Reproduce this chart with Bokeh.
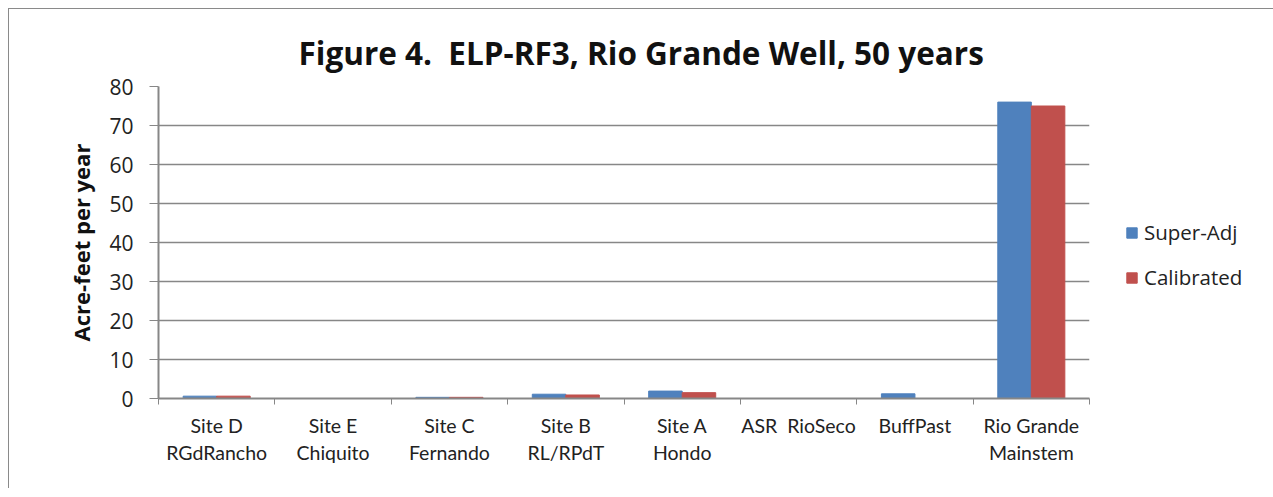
from bokeh.plotting import figure
from bokeh.models import ColumnDataSource, FixedTicker, Legend, LegendItem, Range1d
from bokeh.embed import file_html
from bokeh.resources import INLINE

categories = ["Site D\nRGdRancho", "Site E\nChiquito", "Site C\nFernando", "Site B\nRL/RPdT",
              "Site A\nHondo", "ASR\u00a0 RioSeco", "BuffPast", "Rio Grande\nMainstem"]
super_adj = [0.6, 0.0, 0.3, 1.1, 1.9, 0.0, 1.2, 76.0]
calibrated = [0.6, 0.0, 0.3, 0.9, 1.5, 0.0, 0.0, 75.0]
y_ticks = [0, 10, 20, 30, 40, 50, 60, 70, 80]

n = len(categories)
centers = [i + 0.5 for i in range(n)]
bw = 0.288
src = ColumnDataSource(dict(
    xb=[c - bw / 2 for c in centers],
    xr=[c + bw / 2 for c in centers],
    sa=super_adj, ca=calibrated))

FONT = "Open Sans"
GRAY = "#878787"

p = figure(frame_width=931, frame_height=312, output_backend="svg", toolbar_location=None,
           x_range=Range1d(0, n), y_range=Range1d(0, 80))
p.styles = {"border-left": "1px solid #8a8a8a", "border-top": "1px solid #8a8a8a",
            "margin-left": "8px", "margin-top": "8px"}
p.min_border_left = 149
p.min_border_top = 77
p.min_border_bottom = 90
p.min_border_right = 176
p.outline_line_color = None

p.title.text = "Figure 4.\u00a0 ELP-RF3, Rio Grande Well, 50 years"
p.title.align = "left"
p.title.offset = 140
p.title.text_font = FONT
p.title.text_font_size = "31.5px"
p.title.text_font_style = "bold"
p.title.text_color = "#111111"
p.title.standoff = 25

rb = p.vbar(x="xb", top="sa", width=bw, source=src, fill_color="#4F81BD", line_color="#4F81BD")
rr = p.vbar(x="xr", top="ca", width=bw, source=src, fill_color="#C0504D", line_color="#C0504D")

# axes
p.xaxis.ticker = FixedTicker(ticks=centers, minor_ticks=list(range(n + 1)))
p.xaxis.major_label_overrides = {c: lab for c, lab in zip(centers, categories)}
p.xaxis.major_tick_line_color = None
p.xaxis.minor_tick_line_color = GRAY
p.xaxis.minor_tick_out = 6
p.xaxis.minor_tick_in = 0
p.xaxis.axis_line_color = GRAY
p.xaxis.axis_line_width = 2
p.xaxis.major_label_text_font = "Lato"
p.xaxis.major_label_text_font_size = "19.5px"
p.xaxis.major_label_text_color = "#222222"
p.xaxis.major_label_standoff = 9

p.yaxis.ticker = FixedTicker(ticks=y_ticks)
p.yaxis.minor_tick_line_color = None
p.yaxis.major_tick_line_color = GRAY
p.yaxis.major_tick_out = 9
p.yaxis.major_tick_in = 0
p.yaxis.axis_line_color = GRAY
p.yaxis.axis_line_width = 2
p.yaxis.major_label_text_font = FONT
p.yaxis.major_label_text_font_size = "21px"
p.yaxis.major_label_text_color = "#222222"
p.yaxis.major_label_standoff = 16
p.yaxis.axis_label = "Acre-feet per year"
p.yaxis.axis_label_text_font = FONT
p.yaxis.axis_label_text_font_size = "22px"
p.yaxis.axis_label_text_font_style = "bold"
p.yaxis.axis_label_text_color = "#111111"
p.yaxis.axis_label_standoff = 10

p.xgrid.grid_line_color = None
p.ygrid.ticker = FixedTicker(ticks=y_ticks)
p.ygrid.grid_line_color = GRAY
p.ygrid.grid_line_width = 1.5

legend = Legend(items=[LegendItem(label="Super-Adj", renderers=[rb]),
                       LegendItem(label="Calibrated", renderers=[rr])],
                location=(36, 107), border_line_color=None, background_fill_alpha=0,
                glyph_width=13, glyph_height=13, spacing=17,
                label_text_font=FONT, label_text_font_size="20.5px",
                label_text_color="#222222", margin=0, padding=0, label_standoff=6)
p.add_layout(legend, "right")

open("out.html", "w").write(file_html(p, INLINE))
